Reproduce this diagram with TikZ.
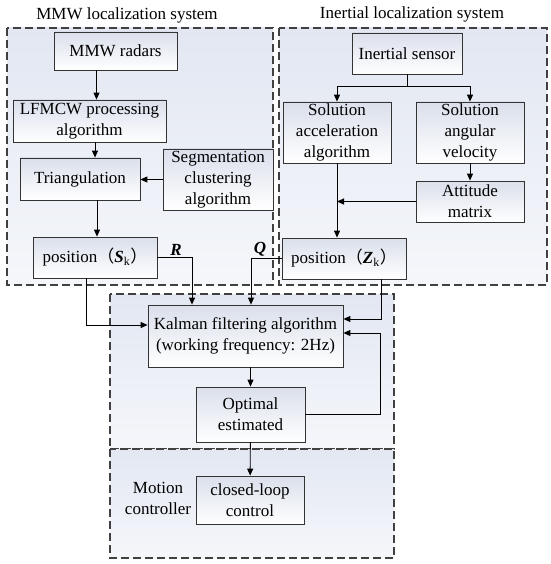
\documentclass[tikz,border=0pt]{standalone}
\usepackage{fontspec}
\setmainfont{Liberation Serif}
\newfontfamily\cjk{Noto Sans CJK SC}
\usetikzlibrary{positioning,arrows.meta}
\definecolor{grpfill}{RGB}{226,231,242}
\definecolor{boxtop}{RGB}{218,223,235}

\begin{document}
\begin{tikzpicture}[x=1pt, y=-1pt, font=\fontsize{17}{21}\selectfont,
	blk/.style={shape=rectangle, draw=black!80, line width=0.8pt, top color=boxtop, bottom color=white, align=center, inner sep=0pt},
	grp/.style={draw=black!75, dash pattern=on 8pt off 4pt, line width=1.2pt, top color=grpfill, bottom color=grpfill!35!white},
	lnk/.style={-{Triangle[width=6pt,length=7pt]}, line width=0.9pt}]
	\useasboundingbox (0,0) rectangle (550,564);

	% dashed groups
	\draw [grp] (7,28) rectangle (273,285);
	\draw [grp] (279,28) rectangle (547,285);
	\draw [grp] (110,294) rectangle (394,449);
	\draw [grp] (110,449) rectangle (394,558);

	\node (mmwtitle) at (127,15) {MMW localization system};
	\node (institle) at (412,14) {Inertial localization system};

	\node (mmw) at (115.5,51) [blk, minimum width=123pt, minimum height=38pt] {MMW radars};
	\node (lfm) at (89.5,121) [blk, minimum width=153pt, minimum height=42pt] {LFMCW processing\\algorithm};
	\node (tri) at (80,179) [blk, minimum width=120pt, minimum height=42pt] {Triangulation};
	\node (seg) at (218,179.5) [blk, minimum width=110pt, minimum height=61pt] {Segmentation\\clustering\\algorithm};
	\node (posS) at (95,257.5) [blk, minimum width=124pt, minimum height=41pt] {position{\cjk （}\textbf{\textit{S}}\textsubscript{k}{\cjk ）}};

	\node (ins) at (407,53.5) [blk, minimum width=110pt, minimum height=41pt] {Inertial sensor};
	\node (acc) at (337,132.5) [blk, minimum width=108pt, minimum height=61pt] {Solution\\acceleration\\algorithm};
	\node (ang) at (470,132.5) [blk, minimum width=108pt, minimum height=61pt] {Solution\\angular\\velocity};
	\node (att) at (470,201.5) [blk, minimum width=108pt, minimum height=41pt] {Attitude\\matrix};
	\node (posZ) at (344,258.5) [blk, minimum width=124pt, minimum height=41pt] {position{\cjk （}\textbf{\textit{Z}}\textsubscript{k}{\cjk ）}};

	\node (kal) at (245.5,336) [blk, minimum width=195pt, minimum height=62pt] {Kalman filtering algorithm\\(working frequency: 2Hz)};
	\node (opt) at (250.5,414.5) [blk, minimum width=109pt, minimum height=55pt] {Optimal\\estimated};
	\node (ctl) at (250,500) [blk, minimum width=108pt, minimum height=48pt] {closed-loop\\control};
	\node (mot) at (158,498) [align=center] {Motion\\controller};

	\node (rlab) at (176,250) {\textbf{\textit{R}}};
	\node (qlab) at (260,249) {\textbf{\textit{Q}}};

	% MMW chain
	\draw [lnk] ([xshift=-19pt]mmw.south) -- ([xshift=-19pt]mmw.south |- lfm.north);
	\draw [lnk] ([xshift=5.5pt]lfm.south) -- ([xshift=5.5pt]lfm.south |- tri.north);
	\draw [lnk] ([xshift=17pt]tri.south) -- ([xshift=17pt]tri.south |- posS.north);
	\draw [lnk] (seg.west) -- (seg.west -| tri.east);

	% inertial chain
	\draw [lnk] (ins.south) -- ++(0,12) -| (acc.north);
	\draw [lnk] (ins.south) -- ++(0,12) -| (ang.north);
	\draw [lnk] (ang) -- (att);
	\draw [lnk] (att.west) -- (att.west -| acc.south);
	\draw [lnk] (acc.south) -- (acc.south |- posZ.north);

	% into the filter
	\draw [lnk] ([xshift=-9pt]posS.south) |- ([yshift=11pt]kal.west);
	\draw [lnk] (posS.east) -| ([xshift=-53.5pt]kal.north);
	\draw [lnk] (posZ.west) -| ([xshift=5.5pt]kal.north);
	\draw [lnk] ([xshift=37pt]posZ.south) |- ([yshift=17pt]kal.east);
	\draw [lnk] (opt.north |- kal.south) -- (opt.north);
	\draw [lnk] (opt.east) -- ++(75,0) |- ([yshift=3pt]kal.east);
	\draw [lnk] (opt) -- (ctl);
\end{tikzpicture}
\end{document}
